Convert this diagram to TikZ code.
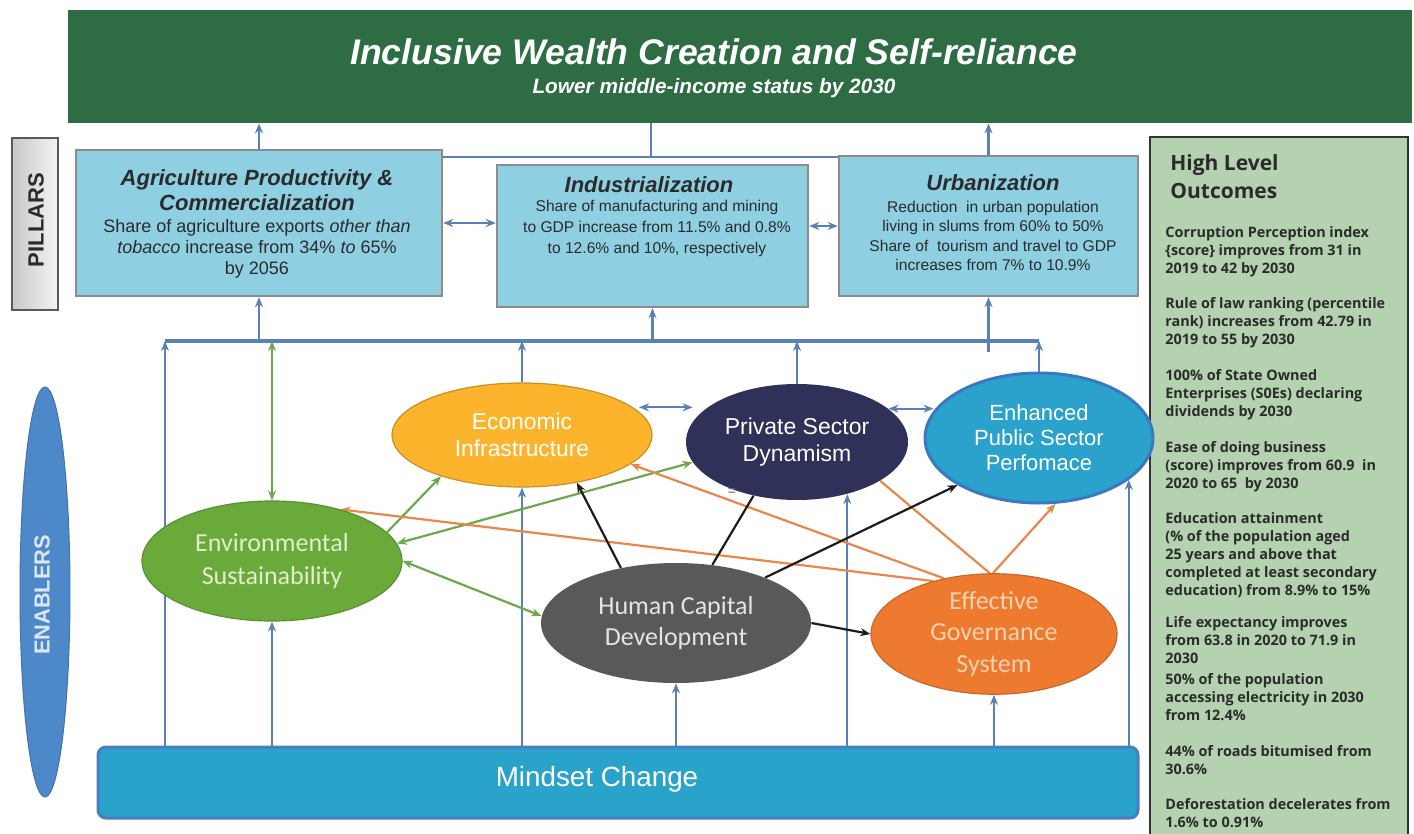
\documentclass[tikz,border=0pt]{standalone}
\usepackage{fontspec}
\setmainfont{Liberation Sans}
\newfontfamily\carl{Carlito}
\newfontfamily\osans{Open Sans}
\usetikzlibrary{shapes.geometric,arrows.meta,calc}
\pgfdeclarelayer{bg}
\pgfdeclarelayer{paper}
\pgfsetlayers{paper,bg,main}
\definecolor{cBan}{HTML}{2E6C43}
\definecolor{cPil}{HTML}{8ECFE2}
\definecolor{cPilB}{HTML}{8C8C8C}
\definecolor{cTxt}{HTML}{2B2B2B}
\definecolor{cHL}{HTML}{B4D2B0}
\definecolor{cMS}{HTML}{29A3CA}
\definecolor{cMSB}{HTML}{4A7EC0}
\definecolor{cEco}{HTML}{FBB42C}
\definecolor{cPsd}{HTML}{2F3158}
\definecolor{cEps}{HTML}{2AA2CB}
\definecolor{cEpsB}{HTML}{3B78C2}
\definecolor{cEnv}{HTML}{6AAA3A}
\definecolor{cEnvT}{HTML}{E3EDCF}
\definecolor{cHcd}{HTML}{595959}
\definecolor{cEgs}{HTML}{EE7A30}
\definecolor{cEgsT}{HTML}{F6D2B0}
\definecolor{cEnb}{HTML}{4D88C8}
\definecolor{cEnbT}{HTML}{DCE7F4}
\definecolor{cLine}{HTML}{5B80B6}
\definecolor{cGrn}{HTML}{6CA84C}
\definecolor{cOrg}{HTML}{E8874A}
\definecolor{cBlk}{HTML}{1C1C1C}
\newcommand\hlr{\rule{0pt}{6pt}}
\begin{document}
\begin{tikzpicture}[x=0.5pt,y=-0.5pt,
  >={Stealth[length=5pt,width=4pt]},
  box/.style={rectangle,draw=cPilB,line width=1.2pt,fill=cPil,inner sep=0},
  ptitle/.style={inner sep=0,align=center,text=cTxt,font=\fontsize{11}{12.5}\selectfont\bfseries\itshape},
  pbody/.style={inner sep=0,align=center,text=cTxt},
  oval/.style={ellipse,inner sep=0,align=center},
  hlitem/.style={anchor=north west,inner sep=0,align=left,text=cTxt,font=\osans\bfseries\fontsize{7.2}{9}\selectfont},
  bl/.style={draw=cLine,line width=1.1pt},
  gr/.style={draw=cGrn,line width=1.1pt},
  og/.style={draw=cOrg,line width=1.1pt},
  bk/.style={draw=cBlk,line width=1.1pt},
]
\useasboundingbox (0,0) rectangle (1414,834);
\begin{pgfonlayer}{paper}
\fill[white] (0,0) rectangle (1414,834);
\end{pgfonlayer}

% banner
\node[rectangle,fill=cBan,inner sep=0,minimum width=672pt,minimum height=56.5pt] (banner) at (740,66.5) {};
\node[text=white,font=\fontsize{17.8}{20}\selectfont\bfseries\itshape] (title) at (714,52) {Inclusive Wealth Creation and Self-reliance};
\node[text=white,font=\fontsize{10.4}{12}\selectfont\bfseries\itshape] (sub) at (714,88) {Lower middle-income status by 2030};

% pillars label
\node[rectangle,draw=black!65,line width=1pt,left color=black!22,right color=black!4,inner sep=0,minimum width=23pt,minimum height=86pt] (pl) at (35,224) {};
\node[rotate=90,text=cTxt,font=\fontsize{11}{12}\selectfont\bfseries] (pltxt) at (36,220) {PILLARS};

% pillar boxes
\node[box,minimum width=183pt,minimum height=73pt] (agri) at (259,223) {};
\node[ptitle] (agriT) at (257,190.5) {Agriculture Productivity \&\\Commercialization};
\node[pbody,font=\fontsize{9}{10.5}\selectfont] (agriB) at (257,249) {Share of agriculture exports \textit{other than}\\\textit{tobacco} increase from 34\% \textit{to} 65\%\\by 2056};

\node[box,minimum width=155.5pt,minimum height=71pt] (indus) at (652.5,236) {};
\node[ptitle] (indusT) at (649,185) {Industrialization};
\node[pbody,font=\fontsize{7.8}{10.5}\selectfont] (indusB) at (657,228.5) {Share of manufacturing and mining\\to GDP increase from 11.5\% and 0.8\%\\to 12.6\% and 10\%, respectively};

\node[box,minimum width=149.5pt,minimum height=70pt] (urb) at (988.5,226) {};
\node[ptitle] (urbT) at (993,183) {Urbanization};
\node[pbody,font=\fontsize{7.8}{9.65}\selectfont] (urbB) at (993,236) {Reduction \ in urban population\\living in slums from 60\% to 50\%\\Share of \ tourism and travel to GDP\\increases from 7\% to 10.9\%};

% high level outcomes
\node[rectangle,fill=cHL,draw=black!80,line width=1.2pt,inner sep=0,minimum width=129pt,minimum height=350.5pt] (hl) at (1279,487.5) {};
\node[hlitem,font=\osans\bfseries\fontsize{10.5}{14}\selectfont] (hlT) at (1170,154) {\rule{0pt}{8pt}High Level\\Outcomes};
\node[hlitem] (h1) at (1165,225) {\hlr Corruption Perception index\\\{score\} improves from 31 in\\2019 to 42 by 2030};
\node[hlitem] (h2) at (1165,296) {\hlr Rule of law ranking (percentile\\rank) increases from 42.79 in\\2019 to 55 by 2030};
\node[hlitem] (h3) at (1165,368) {\hlr 100\% of State Owned\\Enterprises (S0Es) declaring\\dividends by 2030};
\node[hlitem] (h4) at (1165,440) {\hlr Ease of doing business\\(score) improves from 60.9 \ in\\2020 to 65 \ by 2030};
\node[hlitem] (h5) at (1165,511) {\hlr Education attainment\\(\% of the population aged\\25 years and above that\\completed at least secondary\\education) from 8.9\% to 15\%};
\node[hlitem] (h6) at (1165,615) {\hlr Life expectancy improves\\from 63.8 in 2020 to 71.9 in\\2030};
\node[hlitem] (h7) at (1165,672) {\hlr 50\% of the population\\accessing electricity in 2030\\from 12.4\%};
\node[hlitem] (h8) at (1165,744) {\hlr 44\% of roads bitumised from\\30.6\%};
\node[hlitem] (h9) at (1165,797) {\hlr Deforestation decelerates from\\1.6\% to 0.91\%};

% enablers label
\node[ellipse,fill=cEnb,draw=cEnb!85!black,line width=0.5pt,inner sep=0,minimum width=25pt,minimum height=205pt] (enb) at (45,592) {};
\node[rotate=90,text=cEnbT,font=\fontsize{10.9}{12}\selectfont\bfseries] (enbt) at (42,595) {ENABLERS};

% enabler ellipses
\node[oval,fill=cEco,draw=cEco!80!black,line width=0.6pt,minimum width=130pt,minimum height=52pt,text=white,font=\fontsize{11.4}{13.5}\selectfont] (econ) at (522,435) {Economic\\Infrastructure};
\node[oval,fill=cPsd,minimum width=111pt,minimum height=58pt,text=white,font=\fontsize{11.5}{13.5}\selectfont] (psd) at (797,442) {Private Sector\\Dynamism};
\node[oval,fill=cEps,draw=cEpsB,line width=1.5pt,minimum width=114pt,minimum height=65pt,text=white,font=\fontsize{11}{12.5}\selectfont] (eps) at (1039,438) {Enhanced\\Public Sector\\Perfomace};
\node[oval,fill=cEnv,draw=cEnv!85!black,line width=0.6pt,minimum width=130pt,minimum height=60pt,text=cEnvT,font=\carl\fontsize{13}{16.5}\selectfont] (env) at (272,561) {Environmental\\Sustainability};
\node[oval,fill=cHcd,minimum width=135pt,minimum height=60pt,text=black!10,font=\carl\fontsize{13}{15.5}\selectfont] (hcd) at (676,623) {Human Capital\\Development};
\node[oval,fill=cEgs,draw=cEgs!85!black,line width=0.6pt,minimum width=123pt,minimum height=59pt,text=cEgsT,font=\carl\fontsize{13}{15.75}\selectfont] (egs) at (994,634) {Effective\\Governance\\System};
\node[inner sep=0,text=black!60,font=\fontsize{7}{7}\selectfont] (eq) at (732,492) {=};

% mindset change
\node[rectangle,rounded corners=4pt,fill=cMS,draw=cMSB,line width=1.5pt,inner sep=0,minimum width=520pt,minimum height=35.5pt] (ms) at (618,782.5) {};
\node[text=white,font=\fontsize{13.9}{16}\selectfont] (mst) at (597,779) {Mindset Change};

% connectors
\begin{pgfonlayer}{bg}
\coordinate (busL) at (165,341);
\coordinate (busR) at (eps.north |- busL);
\coordinate (hub) at (651,157);
\draw[draw=cLine,line width=1.6pt] (busL) -- (busR);
% top
\draw[bl,->] (agri.north) -- (agri.north |- banner.south);
\draw[bl,->] (urb.north) -- (urb.north |- banner.south);
\draw[bl] (hub |- banner.south) -- (hub);
\draw[bl] (hub -| agri.east) -- (hub -| urb.west);
\draw[bl,<->] (agri.east) -- (agri.east -| indus.west);
\draw[bl,<->] (indus.east |- urb.west) -- (urb.west);
% bus to pillars
\draw[bl,->] (agri.south |- busL) -- (agri.south);
\draw[bl,->] (indus.south |- busL) -- (indus.south);
\draw[bl,->] ($(urb.south |- busL)+(0,11)$) -- (urb.south);
% enablers to bus
\draw[bl,->] (ms.north -| busL) -- (busL);
\draw[gr,<->] (env.north) -- (env.north |- busL);
\draw[bl,->] (econ.north) -- (econ.north |- busL);
\draw[bl,->] (psd.north) -- (psd.north |- busL);
\draw[bl,->] (eps.north) -- (busR);
% mindset to enablers
\draw[bl,->] (ms.north -| env.south) -- (env.south);
\draw[bl,->] (ms.north -| econ.south) -- (econ.south);
\draw[bl,->] (ms.north -| hcd.south) -- (hcd.south);
\draw[bl,->] (ms.north -| psd.-46.7) -- (psd.-46.7);
\draw[bl,->] (ms.north -| egs.south) -- (egs.south);
\draw[bl,->] (ms.north -| eps.-25.8) -- (eps.-25.8);
% among enablers
\draw[bl,<->] ($(econ.14)+(6,0)$) -- ($(econ.14 -| psd.west)+(7,0)$);
\draw[bl,<->] (psd.20) -- ($(psd.20 -| eps.west)+(10,0)$);
\draw[gr,->] (env.14) -- (econ.207);
\draw[gr,<->] (env.8) -- (psd.191);
\draw[gr,<->] (env.0) -- (hcd.177);
\draw[og,->] (egs.139) -- (env.37);
\draw[og,->] (egs.132) -- (econ.-15);
\draw[og,->] (egs.91) -- (eps.-76);
\draw[og] (egs.94) -- (psd.-25);
\draw[bk,->] (hcd.135) -- (econ.-41);
\draw[bk] (hcd.58) -- (psd.-129);
\draw[bk,->] (hcd.27) -- (eps.210);
\draw[bk,->] (hcd.0) -- (egs.180);
\end{pgfonlayer}
\end{tikzpicture}
\end{document}
